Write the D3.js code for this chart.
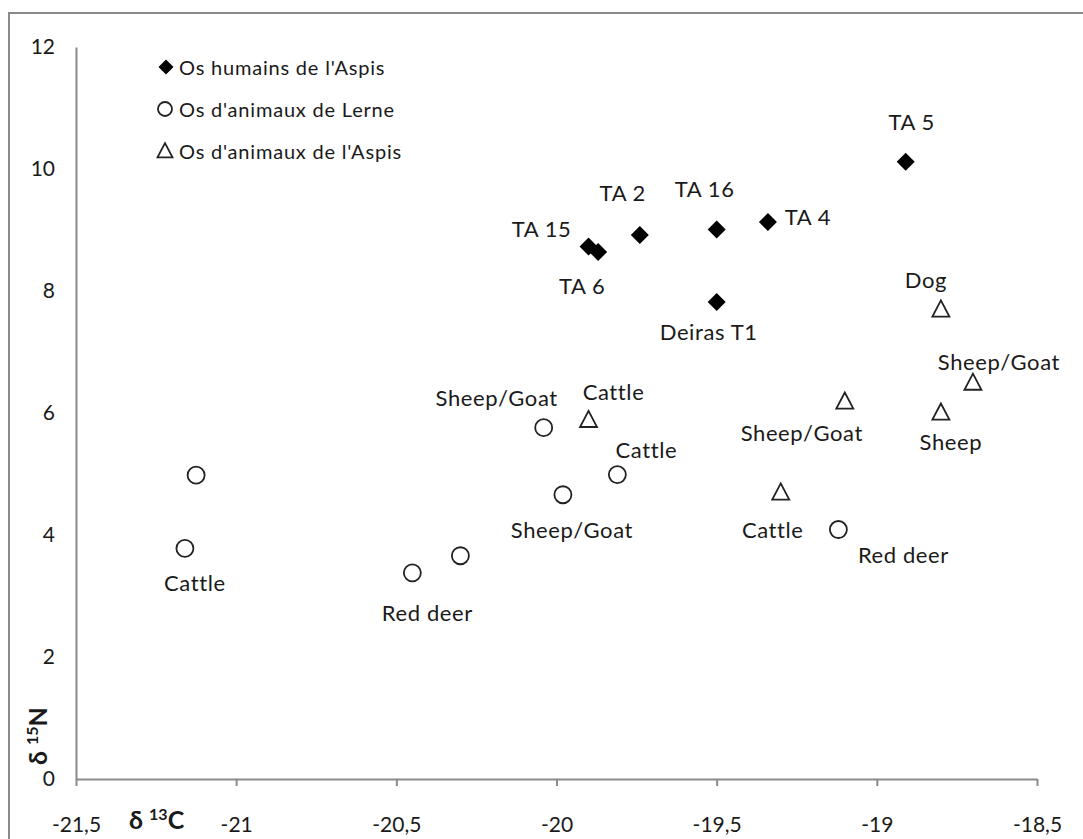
<!DOCTYPE html>
<html><head><meta charset="utf-8">
<script src="https://cdn.jsdelivr.net/npm/d3@7"></script>
<style>
html,body{margin:0;padding:0;background:#fff;}
svg text{font-family:Lato,"Open Sans",sans-serif;fill:#1a1a1a;}
</style></head>
<body>
<svg id="chart" width="1083" height="839"></svg>
<script>
// ---- data ----
const xTicks = [-21.5, -21, -20.5, -20, -19.5, -19, -18.5];
const yTicks = [0, 2, 4, 6, 8, 10, 12];
const seriesNames = ["Os humains de l'Aspis", "Os d'animaux de Lerne", "Os d'animaux de l'Aspis"];

const humansX = [-18.91, -19.34, -19.50, -19.74, -19.90, -19.87, -19.50];
const humansY = [10.12, 9.13, 9.01, 8.92, 8.73, 8.64, 7.82];
const humansLabels = ["TA 5", "TA 4", "TA 16", "TA 2", "TA 15", "TA 6", "Deiras T1"];

const lerneX = [-21.125, -21.16, -20.45, -20.30, -20.04, -19.98, -19.81, -19.12];
const lerneY = [4.98, 3.78, 3.38, 3.66, 5.76, 4.66, 4.99, 4.09];
const lerneLabels = ["", "Cattle", "Red deer", "", "Sheep/Goat", "Sheep/Goat", "Cattle", "Red deer"];

const aspisX = [-19.90, -18.80, -18.70, -18.80, -19.10, -19.30];
const aspisY = [5.89, 7.70, 6.50, 6.01, 6.19, 4.70];
const aspisLabels = ["Cattle", "Dog", "Sheep/Goat", "Sheep", "Sheep/Goat", "Cattle"];

// label placement (pixel offsets from the point, style only)
const humansOffsets = [[6,-40],[40,-6],[-12,-41],[-17,-42],[-47,-18],[-16,34],[-8,30]];
const lerneOffsets = [[0,0],[10,34],[15,40],[0,0],[-47,-30],[9,35],[29,-25],[65,25]];
const aspisOffsets = [[25,-28],[-15,-30],[26,-21],[10,29],[-43,31],[-8,37]];

// ---- layout ----
const svg = d3.select("#chart");
const mLeft = 76, mRight = 1037, mTop = 47, mBottom = 779;
const x = d3.scaleLinear().domain([-21.5, -18.5]).range([mLeft, mRight]);
const y = d3.scaleLinear().domain([0, 12]).range([mBottom, mTop]);
const axisColor = "#8a8a8a";
const fmt = v => String(v).replace(".", ",");

// outer frame
svg.append("rect").attr("x", 9).attr("y", 13).attr("width", 1100).attr("height", 900)
  .attr("fill", "none").attr("stroke", axisColor).attr("stroke-width", 2);

// x axis
const gx = svg.append("g").attr("transform", `translate(0,${mBottom})`)
  .call(d3.axisBottom(x).tickValues(xTicks).tickFormat(fmt).tickSizeInner(7).tickSizeOuter(0).tickPadding(31));
gx.select(".domain").attr("stroke", axisColor).attr("stroke-width", 2);
gx.selectAll(".tick line").attr("stroke", axisColor).attr("stroke-width", 2);
gx.selectAll(".tick text").attr("font-size", 21).attr("fill", "#1a1a1a").style("font-family", "Lato");

// y axis
const gy = svg.append("g").attr("transform", `translate(${mLeft},0)`)
  .call(d3.axisLeft(y).tickValues(yTicks).tickFormat(fmt).tickSize(0).tickPadding(21));
gy.select(".domain").attr("stroke", axisColor).attr("stroke-width", 2);
gy.selectAll(".tick text").attr("font-size", 21).attr("fill", "#1a1a1a").style("font-family", "Lato");

// axis titles
const xt = svg.append("text").attr("x", 129).attr("y", 829).attr("font-size", 25).attr("font-weight", "bold");
xt.append("tspan").text("δ ");
xt.append("tspan").attr("font-size", 16).attr("dy", -9).text("13");
xt.append("tspan").attr("dy", 9).text("C");

const yt = svg.append("text").attr("transform", "translate(47,765) rotate(-90)").attr("font-size", 25).attr("font-weight", "bold");
yt.append("tspan").text("δ ");
yt.append("tspan").attr("font-size", 16).attr("dy", -9).text("15");
yt.append("tspan").attr("dy", 9).text("N");

// markers
function drawDiamond(g, cx, cy, s) {
  g.append("path").attr("d", `M${cx},${cy - s}L${cx + s},${cy}L${cx},${cy + s}L${cx - s},${cy}Z`)
    .attr("fill", "#000");
}
function drawCircle(g, cx, cy, r) {
  g.append("circle").attr("cx", cx).attr("cy", cy).attr("r", r)
    .attr("fill", "#fff").attr("stroke", "#222").attr("stroke-width", 1.8);
}
function drawTriangle(g, cx, cy, s) {
  const h = s * 0.95;
  g.append("path").attr("d", `M${cx},${cy - h * 0.55}L${cx + s / 2},${cy + h * 0.45}L${cx - s / 2},${cy + h * 0.45}Z`)
    .attr("fill", "#fff").attr("stroke", "#222").attr("stroke-width", 1.8).attr("stroke-linejoin", "miter");
}

const pts = svg.append("g");
const labels = svg.append("g").attr("font-size", 22).attr("letter-spacing", 0.6).attr("text-anchor", "middle");

function drawSeries(xs, ys, labs, offs, kind) {
  xs.forEach((v, i) => {
    const cx = x(v), cy = y(ys[i]);
    if (kind === 0) drawDiamond(pts, cx, cy, 9);
    else if (kind === 1) drawCircle(pts, cx, cy, 8.5);
    else drawTriangle(pts, cx, cy, 17);
    if (labs[i]) {
      labels.append("text").attr("x", cx + offs[i][0]).attr("y", cy + offs[i][1])
        .attr("dominant-baseline", "central").text(labs[i]);
    }
  });
}
drawSeries(lerneX, lerneY, lerneLabels, lerneOffsets, 1);
drawSeries(aspisX, aspisY, aspisLabels, aspisOffsets, 2);
drawSeries(humansX, humansY, humansLabels, humansOffsets, 0);

// legend
const leg = svg.append("g");
const legRows = [67, 109, 151];
seriesNames.forEach((name, i) => {
  const cy = legRows[i];
  if (i === 0) drawDiamond(leg, 166, cy, 7.5);
  else if (i === 1) drawCircle(leg, 165, cy, 7);
  else drawTriangle(leg, 165, cy, 15);
  leg.append("text").attr("x", 179).attr("y", cy).attr("dominant-baseline", "central")
    .attr("font-size", 20).attr("letter-spacing", 0.8).text(name);
});
</script>
</body></html>
